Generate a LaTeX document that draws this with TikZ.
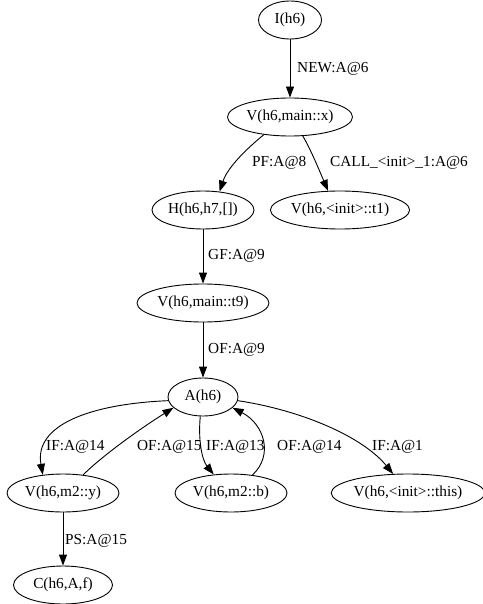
\documentclass[tikz,border=0pt]{standalone}
\usepackage{fontspec}
\setmainfont{Liberation Serif}
\usetikzlibrary{arrows.meta,shapes.geometric}
\begin{document}
\begin{tikzpicture}[x=1pt,y=-1pt,
  state/.style={ellipse,draw,line width=0.9pt,minimum height=38pt,inner sep=0pt,
    font=\fontsize{15.3}{18}\selectfont},
  lbl/.style={anchor=west,inner sep=0pt,font=\fontsize{15.3}{18}\selectfont},
  edge/.style={line width=0.9pt,-{Triangle[length=11pt,width=8pt]}}]
\path[use as bounding box] (0,0) rectangle (482,604);

% nodes
\node[state,minimum width=63pt]  (i)    at (290,20)  {I(h6)};
\node[state,minimum width=125pt] (vx)   at (290,117) {V(h6,main::x)};
\node[state,minimum width=102pt] (h)    at (203,210) {H(h6,h7,[])};
\node[state,minimum width=135pt] (t1)   at (340,210) {V(h6,<init>::t1)};
\node[state,minimum width=132pt] (t9)   at (203,303) {V(h6,main::t9)};
\node[state,minimum width=70pt]  (a)    at (203,397) {A(h6)};
\node[state,minimum width=112pt] (y)    at (63,493)  {V(h6,m2::y)};
\node[state,minimum width=112pt] (b)    at (231,493) {V(h6,m2::b)};
\node[state,minimum width=142pt] (this) at (408,493) {V(h6,<init>::this)};
\node[state,minimum width=99pt]  (c)    at (63,585)  {C(h6,A,f)};

% connectors
\draw[edge] (i) -- (vx);
\draw[edge] (vx.214) .. controls (250,146) and (228,166) .. (h.48);
\draw[edge] (vx.304) .. controls (311,150) and (320,172) .. (t1.122);
\draw[edge] (h) -- (t9);
\draw[edge] (t9) -- (a);
\draw[edge] (a.186) .. controls (90,404) and (34,425) .. (y.138);
\draw[edge] (y.42) .. controls (100,458) and (135,432) .. (a.200);
\draw[edge] (a.262) .. controls (198,440) and (202,460) .. (b.133);
\draw[edge] (b.40) .. controls (274,455) and (264,424) .. (a.340);
\draw[edge] (a.354) .. controls (300,410) and (362,436) .. (this.128);
\draw[edge] (y) -- (c);

% edge labels
\node[lbl] (l1)  at (297,69)  {NEW:A@6};
\node[lbl] (l2)  at (252,163) {PF:A@8};
\node[lbl] (l3)  at (330,163) {CALL\_<init>\_1:A@6};
\node[lbl] (l4)  at (208,256) {GF:A@9};
\node[lbl] (l5)  at (208,350) {OF:A@9};
\node[lbl] (l6)  at (46,447)  {IF:A@14};
\node[lbl] (l7)  at (137,447) {OF:A@15};
\node[lbl] (l8)  at (206,447) {IF:A@13};
\node[lbl] (l9)  at (277,447) {OF:A@14};
\node[lbl] (l10) at (372,447) {IF:A@1};
\node[lbl] (l11) at (65,541)  {PS:A@15};
\end{tikzpicture}
\end{document}
